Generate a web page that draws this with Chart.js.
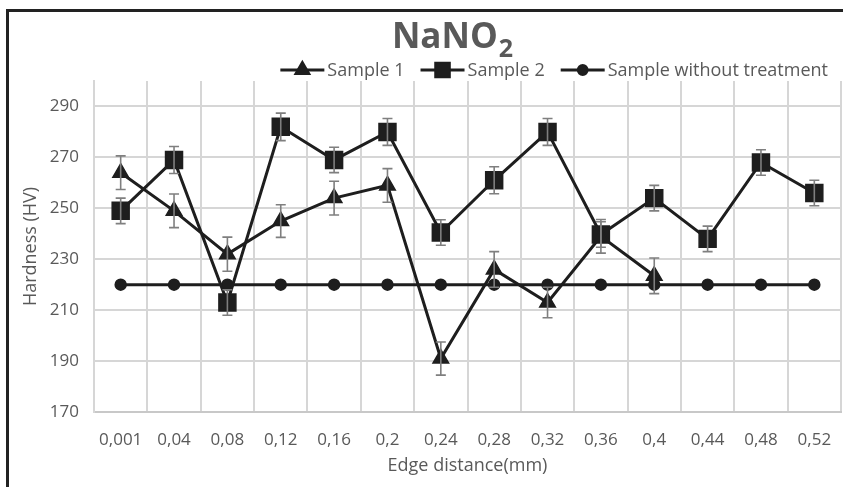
<!DOCTYPE html>
<html>
<head>
<meta charset="utf-8">
<script src="https://cdn.jsdelivr.net/npm/chart.js@4.4.1/dist/chart.umd.min.js"></script>
<style>
    html, body { margin: 0; padding: 0; background: #fff; overflow: hidden; }
    #wrap { position: relative; width: 843px; height: 487px; }
    #frame {
        position: absolute; left: 6px; top: 9px; width: 900px; height: 600px;
        border-left: 3px solid #222; border-top: 3px solid #222; pointer-events: none;
    }
</style>
</head>
<body>
<div id="wrap">
    <canvas id="chart" width="843" height="487"></canvas>
    <div id="frame"></div>
</div>
<script>
const categories = ['0,001', '0,04', '0,08', '0,12', '0,16', '0,2', '0,24', '0,28', '0,32', '0,36', '0,4', '0,44', '0,48', '0,52'];
const sample1 = [264, 249, 232, 245, 254, 259, 191, 226, 213, 239, 223.5, null, null, null];
const sample1Err = [6.6, 6.6, 6.7, 6.4, 6.6, 6.6, 6.5, 7, 6, 6.6, 7, null, null, null];
const sample2 = [249, 269, 213, 282, 269, 280, 240.5, 261, 280, 239.7, 254, 238, 268, 256];
const sample2Err = [5, 5.3, 5, 5.4, 5, 5.3, 5, 5.3, 5.3, 5, 5, 5, 5, 5];
const untreated = [220, 220, 220, 220, 220, 220, 220, 220, 220, 220, 220, 220, 220, 220];
const yTicks = [170, 190, 210, 230, 250, 270, 290];

const FONT = "'Open Sans', sans-serif";
const TEXT = '#595959';
const INK = '#1e1e1e';

// error bars drawn from the err arrays through the y scale
const errorBars = {
    id: 'errorBars',
    afterDatasetsDraw(chart) {
        const ctx = chart.ctx;
        const y = chart.scales.y;
        ctx.save();
        ctx.strokeStyle = '#7f7f7f';
        ctx.lineWidth = 1.6;
        chart.data.datasets.forEach((ds, i) => {
            if (!ds.errors) return;
            const meta = chart.getDatasetMeta(i);
            meta.data.forEach((pt, j) => {
                const e = ds.errors[j];
                if (e == null || ds.data[j] == null) return;
                const top = y.getPixelForValue(ds.data[j] + e);
                const bot = y.getPixelForValue(ds.data[j] - e);
                ctx.beginPath();
                ctx.moveTo(pt.x, top); ctx.lineTo(pt.x, bot);
                ctx.moveTo(pt.x - 5, top); ctx.lineTo(pt.x + 5, top);
                ctx.moveTo(pt.x - 5, bot); ctx.lineTo(pt.x + 5, bot);
                ctx.stroke();
            });
        });
        ctx.restore();
    }
};

// title with subscript and line+marker legend
const header = {
    id: 'header',
    afterDraw(chart) {
        const ctx = chart.ctx;
        ctx.save();
        ctx.fillStyle = TEXT;
        ctx.textBaseline = 'alphabetic';
        ctx.font = `bold 35px ${FONT}`;
        const main = 'NaNO';
        const wMain = ctx.measureText(main).width;
        ctx.font = `bold 25px ${FONT}`;
        const wSub = ctx.measureText('2').width;
        let x = 452 - (wMain + wSub) / 2;
        ctx.font = `bold 35px ${FONT}`;
        ctx.fillText(main, x, 48);
        ctx.font = `bold 25px ${FONT}`;
        ctx.fillText('2', x + wMain + 1, 57);

        // legend, right aligned
        ctx.font = `18px ${FONT}`;
        const lineLen = 44;
        const items = chart.data.datasets.map(ds => ({ ds, w: ctx.measureText(ds.label).width }));
        const gap = 16;
        const total = items.reduce((s, it) => s + lineLen + 3 + it.w, 0) + gap * (items.length - 1);
        let lx = 828 - total;
        const ly = 70;
        items.forEach(it => {
            ctx.strokeStyle = INK;
            ctx.lineWidth = 3;
            ctx.beginPath();
            ctx.moveTo(lx, ly); ctx.lineTo(lx + lineLen, ly);
            ctx.stroke();
            Chart.helpers.drawPoint(ctx, {
                pointStyle: it.ds.pointStyle,
                radius: it.ds.pointRadius * 0.8,
                borderWidth: 1
            }, lx + lineLen / 2, ly);
            ctx.fillStyle = INK;
            ctx.fill();
            ctx.fillStyle = TEXT;
            ctx.textBaseline = 'middle';
            ctx.fillText(it.ds.label, lx + lineLen + 3, ly + 1);
            lx += lineLen + 3 + it.w + gap;
        });
        ctx.restore();
    }
};

function series(label, data, errors, style, radius) {
    return {
        label, data, errors,
        borderColor: INK,
        backgroundColor: INK,
        borderWidth: 3,
        pointStyle: style,
        pointRadius: radius,
        pointHoverRadius: radius,
        pointBorderWidth: 1.5,
        pointBackgroundColor: INK,
        pointBorderColor: INK,
        tension: 0,
        spanGaps: false,
    };
}

new Chart(document.getElementById('chart'), {
    type: 'line',
    data: {
        labels: categories,
        datasets: [
            series('Sample 1', sample1, sample1Err, 'triangle', 9),
            series('Sample 2', sample2, sample2Err, 'rect', 12),
            series('Sample without treatment', untreated, null, 'circle', 5.5),
        ],
    },
    options: {
        responsive: false,
        animation: false,
        devicePixelRatio: 1,
        layout: { autoPadding: false, padding: { top: 81, right: 2, left: 0, bottom: 0 } },
        plugins: {
            legend: { display: false },
            title: { display: false },
            tooltip: { enabled: false },
        },
        scales: {
            x: {
                offset: true,
                grid: { offset: true, color: '#d6d6d6', lineWidth: 2, drawTicks: false },
                border: { color: '#c8c8c8', width: 2 },
                ticks: { color: TEXT, font: { family: FONT, size: 17, lineHeight: 2.6 }, padding: 6, maxRotation: 0, autoSkip: false },
                title: { display: true, text: 'Edge distance(mm)', color: TEXT, font: { family: FONT, size: 18 }, padding: { top: 0, bottom: 10 } },
                afterFit(scale) {
                    scale.height = 75;
                },
            },
            y: {
                min: 170,
                max: 300,
                grid: { color: '#d6d6d6', lineWidth: 2, drawTicks: false },
                border: { color: '#d6d6d6', width: 2 },
                ticks: { stepSize: 20, color: TEXT, font: { family: FONT, size: 17 }, padding: 15 },
                afterBuildTicks(axis) { axis.ticks = yTicks.map(v => ({ value: v })); },
                title: { display: true, text: 'Hardness (HV)', color: TEXT, font: { family: FONT, size: 18 }, padding: { top: 20, bottom: 0 } },
                afterFit(scale) {
                    scale.width = 94;
                    scale.paddingTop = 0;
                    scale.paddingBottom = 0;
                },
            },
        },
    },
    plugins: [errorBars, header],
});
</script>
</body>
</html>
